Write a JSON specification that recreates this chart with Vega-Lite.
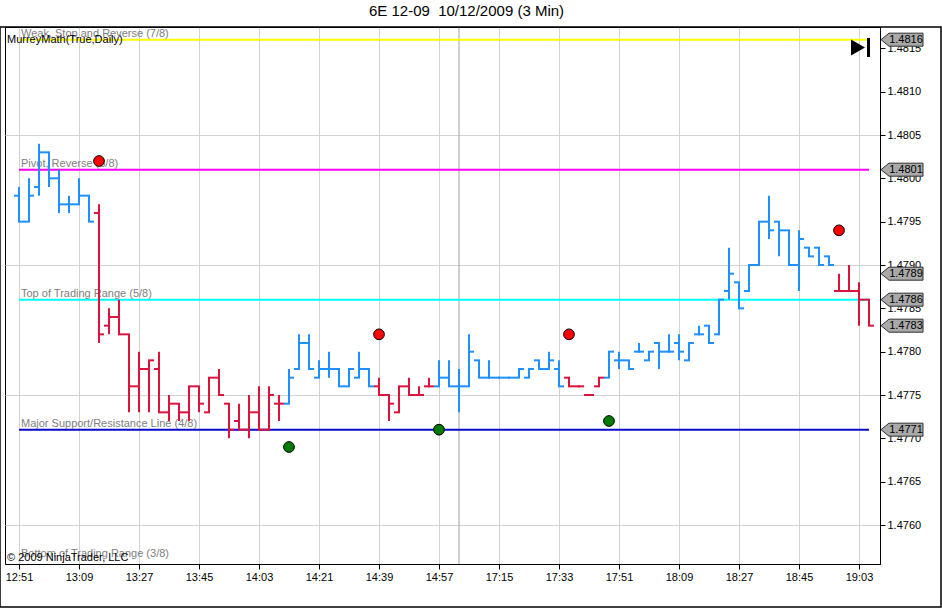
{
  "$schema": "https://vega.github.io/schema/vega-lite/v6.json",
  "description": "6E 12-09 3 minute OHLC bars with MurreyMath levels",
  "width": 875,
  "height": 537,
  "autosize": "none",
  "padding": {"left": 5, "top": 27, "right": 62, "bottom": 44},
  "title": {
    "text": "6E 12-09\u00a0 10/12/2009 (3 Min)",
    "anchor": "middle",
    "dx": 24,
    "offset": 7,
    "fontSize": 15,
    "fontWeight": "normal",
    "color": "black"
  },
  "config": {
    "font": "Liberation Sans",
    "view": {"stroke": "black", "strokeWidth": 1}
  },
  "datasets": {
    "bars": [
      {"i": 0, "o": 1.4798, "h": 1.4799, "l": 1.4795, "c": 1.4795, "t": "up"},
      {"i": 1, "o": 1.4795, "h": 1.4800, "l": 1.4795, "c": 1.4798, "t": "up"},
      {"i": 2, "o": 1.4799, "h": 1.4804, "l": 1.4798, "c": 1.4803, "t": "up"},
      {"i": 3, "o": 1.4803, "h": 1.4803, "l": 1.4799, "c": 1.4800, "t": "up"},
      {"i": 4, "o": 1.4800, "h": 1.4801, "l": 1.4796, "c": 1.4797, "t": "up"},
      {"i": 5, "o": 1.4797, "h": 1.4798, "l": 1.4796, "c": 1.4797, "t": "up"},
      {"i": 6, "o": 1.4797, "h": 1.4800, "l": 1.4797, "c": 1.4798, "t": "up"},
      {"i": 7, "o": 1.4798, "h": 1.4798, "l": 1.4795, "c": 1.4795, "t": "up"},
      {"i": 8, "o": 1.4796, "h": 1.4797, "l": 1.4781, "c": 1.4782, "t": "dn"},
      {"i": 9, "o": 1.4783, "h": 1.4785, "l": 1.4782, "c": 1.4784, "t": "dn"},
      {"i": 10, "o": 1.4784, "h": 1.4786, "l": 1.4782, "c": 1.4782, "t": "dn"},
      {"i": 11, "o": 1.4782, "h": 1.4782, "l": 1.4773, "c": 1.4776, "t": "dn"},
      {"i": 12, "o": 1.4776, "h": 1.4780, "l": 1.4773, "c": 1.4778, "t": "dn"},
      {"i": 13, "o": 1.4778, "h": 1.4779, "l": 1.4773, "c": 1.4779, "t": "dn"},
      {"i": 14, "o": 1.4778, "h": 1.4780, "l": 1.4773, "c": 1.4773, "t": "dn"},
      {"i": 15, "o": 1.4773, "h": 1.4775, "l": 1.4772, "c": 1.4774, "t": "dn"},
      {"i": 16, "o": 1.4774, "h": 1.4774, "l": 1.4772, "c": 1.4773, "t": "dn"},
      {"i": 17, "o": 1.4773, "h": 1.4776, "l": 1.4772, "c": 1.4776, "t": "dn"},
      {"i": 18, "o": 1.4776, "h": 1.4776, "l": 1.4773, "c": 1.4774, "t": "dn"},
      {"i": 19, "o": 1.4773, "h": 1.4777, "l": 1.4773, "c": 1.4777, "t": "dn"},
      {"i": 20, "o": 1.4777, "h": 1.4778, "l": 1.4775, "c": 1.4775, "t": "dn"},
      {"i": 21, "o": 1.4774, "h": 1.4774, "l": 1.4770, "c": 1.4771, "t": "dn"},
      {"i": 22, "o": 1.4772, "h": 1.4774, "l": 1.4771, "c": 1.4771, "t": "dn"},
      {"i": 23, "o": 1.4771, "h": 1.4775, "l": 1.4770, "c": 1.4773, "t": "dn"},
      {"i": 24, "o": 1.4773, "h": 1.4776, "l": 1.4771, "c": 1.4771, "t": "dn"},
      {"i": 25, "o": 1.4771, "h": 1.4776, "l": 1.4771, "c": 1.4775, "t": "dn"},
      {"i": 26, "o": 1.4774, "h": 1.4775, "l": 1.4772, "c": 1.4774, "t": "dn"},
      {"i": 27, "o": 1.4774, "h": 1.4778, "l": 1.4774, "c": 1.4777, "t": "up"},
      {"i": 28, "o": 1.4778, "h": 1.4782, "l": 1.4778, "c": 1.4781, "t": "up"},
      {"i": 29, "o": 1.4781, "h": 1.4782, "l": 1.4778, "c": 1.4778, "t": "up"},
      {"i": 30, "o": 1.4777, "h": 1.4779, "l": 1.4777, "c": 1.4778, "t": "up"},
      {"i": 31, "o": 1.4778, "h": 1.4780, "l": 1.4777, "c": 1.4778, "t": "up"},
      {"i": 32, "o": 1.4778, "h": 1.4778, "l": 1.4776, "c": 1.4776, "t": "up"},
      {"i": 33, "o": 1.4776, "h": 1.4778, "l": 1.4776, "c": 1.4778, "t": "up"},
      {"i": 34, "o": 1.4777, "h": 1.4780, "l": 1.4777, "c": 1.4778, "t": "up"},
      {"i": 35, "o": 1.4778, "h": 1.4778, "l": 1.4776, "c": 1.4776, "t": "up"},
      {"i": 36, "o": 1.4776, "h": 1.4777, "l": 1.4775, "c": 1.4775, "t": "dn"},
      {"i": 37, "o": 1.4775, "h": 1.4775, "l": 1.4772, "c": 1.4774, "t": "dn"},
      {"i": 38, "o": 1.4773, "h": 1.4776, "l": 1.4773, "c": 1.4776, "t": "dn"},
      {"i": 39, "o": 1.4776, "h": 1.4777, "l": 1.4775, "c": 1.4775, "t": "dn"},
      {"i": 40, "o": 1.4775, "h": 1.4776, "l": 1.4775, "c": 1.4775, "t": "dn"},
      {"i": 41, "o": 1.4776, "h": 1.4777, "l": 1.4776, "c": 1.4776, "t": "dn"},
      {"i": 42, "o": 1.4776, "h": 1.4779, "l": 1.4776, "c": 1.4777, "t": "up"},
      {"i": 43, "o": 1.4777, "h": 1.4779, "l": 1.4776, "c": 1.4776, "t": "up"},
      {"i": 44, "o": 1.4776, "h": 1.4778, "l": 1.4773, "c": 1.4776, "t": "up"},
      {"i": 45, "o": 1.4776, "h": 1.4782, "l": 1.4776, "c": 1.4780, "t": "up"},
      {"i": 46, "o": 1.4779, "h": 1.4779, "l": 1.4777, "c": 1.4777, "t": "up"},
      {"i": 47, "o": 1.4777, "h": 1.4779, "l": 1.4777, "c": 1.4777, "t": "up"},
      {"i": 48, "o": 1.4777, "h": 1.4777, "l": 1.4777, "c": 1.4777, "t": "up"},
      {"i": 49, "o": 1.4777, "h": 1.4777, "l": 1.4777, "c": 1.4777, "t": "up"},
      {"i": 50, "o": 1.4777, "h": 1.4778, "l": 1.4777, "c": 1.4778, "t": "up"},
      {"i": 51, "o": 1.4777, "h": 1.4778, "l": 1.4777, "c": 1.4778, "t": "up"},
      {"i": 52, "o": 1.4779, "h": 1.4779, "l": 1.4778, "c": 1.4778, "t": "up"},
      {"i": 53, "o": 1.4778, "h": 1.4780, "l": 1.4778, "c": 1.4779, "t": "up"},
      {"i": 54, "o": 1.4778, "h": 1.4779, "l": 1.4776, "c": 1.4776, "t": "up"},
      {"i": 55, "o": 1.4777, "h": 1.4777, "l": 1.4776, "c": 1.4776, "t": "dn"},
      {"i": 56, "o": 1.4776, "h": 1.4776, "l": 1.4776, "c": 1.4776, "t": "dn"},
      {"i": 57, "o": 1.4775, "h": 1.4775, "l": 1.4775, "c": 1.4775, "t": "dn"},
      {"i": 58, "o": 1.4776, "h": 1.4777, "l": 1.4776, "c": 1.4777, "t": "dn"},
      {"i": 59, "o": 1.4777, "h": 1.4780, "l": 1.4777, "c": 1.4780, "t": "up"},
      {"i": 60, "o": 1.4779, "h": 1.4780, "l": 1.4778, "c": 1.4779, "t": "up"},
      {"i": 61, "o": 1.4779, "h": 1.4779, "l": 1.4778, "c": 1.4778, "t": "up"},
      {"i": 62, "o": 1.4780, "h": 1.4781, "l": 1.4780, "c": 1.4780, "t": "up"},
      {"i": 63, "o": 1.4779, "h": 1.4780, "l": 1.4779, "c": 1.4780, "t": "up"},
      {"i": 64, "o": 1.4781, "h": 1.4781, "l": 1.4778, "c": 1.4780, "t": "up"},
      {"i": 65, "o": 1.4780, "h": 1.4782, "l": 1.4780, "c": 1.4780, "t": "up"},
      {"i": 66, "o": 1.4781, "h": 1.4782, "l": 1.4779, "c": 1.4780, "t": "up"},
      {"i": 67, "o": 1.4779, "h": 1.4781, "l": 1.4779, "c": 1.4781, "t": "up"},
      {"i": 68, "o": 1.4782, "h": 1.4783, "l": 1.4782, "c": 1.4782, "t": "up"},
      {"i": 69, "o": 1.4783, "h": 1.4783, "l": 1.4781, "c": 1.4781, "t": "up"},
      {"i": 70, "o": 1.4782, "h": 1.4786, "l": 1.4782, "c": 1.4786, "t": "up"},
      {"i": 71, "o": 1.4787, "h": 1.4792, "l": 1.4786, "c": 1.4789, "t": "up"},
      {"i": 72, "o": 1.4788, "h": 1.4788, "l": 1.4785, "c": 1.4785, "t": "up"},
      {"i": 73, "o": 1.4787, "h": 1.4790, "l": 1.4787, "c": 1.4790, "t": "up"},
      {"i": 74, "o": 1.4790, "h": 1.4795, "l": 1.4790, "c": 1.4795, "t": "up"},
      {"i": 75, "o": 1.4795, "h": 1.4798, "l": 1.4793, "c": 1.4794, "t": "up"},
      {"i": 76, "o": 1.4795, "h": 1.4795, "l": 1.4791, "c": 1.4794, "t": "up"},
      {"i": 77, "o": 1.4794, "h": 1.4794, "l": 1.4790, "c": 1.4790, "t": "up"},
      {"i": 78, "o": 1.4790, "h": 1.4794, "l": 1.4787, "c": 1.4793, "t": "up"},
      {"i": 79, "o": 1.4792, "h": 1.4792, "l": 1.4791, "c": 1.4791, "t": "up"},
      {"i": 80, "o": 1.4792, "h": 1.4792, "l": 1.4790, "c": 1.4790, "t": "up"},
      {"i": 81, "o": 1.4791, "h": 1.4791, "l": 1.4790, "c": 1.4790, "t": "up"},
      {"i": 82, "o": 1.4787, "h": 1.4789, "l": 1.4787, "c": 1.4787, "t": "dn"},
      {"i": 83, "o": 1.4787, "h": 1.4790, "l": 1.4787, "c": 1.4787, "t": "dn"},
      {"i": 84, "o": 1.4787, "h": 1.4788, "l": 1.4783, "c": 1.4786, "t": "dn"},
      {"i": 85, "o": 1.4786, "h": 1.4786, "l": 1.4783, "c": 1.4783, "t": "dn"}
    ],
    "levels": [
      {"v": 1.4816, "name": "Weak, Stop and Reverse (7/8)"},
      {"v": 1.4801, "name": "Pivot, Reverse (6/8)"},
      {"v": 1.4786, "name": "Top of Trading Range (5/8)"},
      {"v": 1.4771, "name": "Major Support/Resistance Line (4/8)"},
      {"v": 1.4756, "name": "Bottom of Trading Range (3/8)"}
    ],
    "dots": [
      {"i": 8, "v": 1.4802, "k": "red"},
      {"i": 36, "v": 1.4782, "k": "red"},
      {"i": 55, "v": 1.4782, "k": "red"},
      {"i": 82, "v": 1.4794, "k": "red"},
      {"i": 27, "v": 1.4769, "k": "green"},
      {"i": 42, "v": 1.4771, "k": "green"},
      {"i": 59, "v": 1.4772, "k": "green"}
    ],
    "tags": [
      {"v": 1.4816},
      {"v": 1.4801},
      {"v": 1.4789},
      {"v": 1.4786},
      {"v": 1.4783},
      {"v": 1.4771}
    ],
    "one": [{}]
  },
  "layer": [
    {
      "data": {"name": "one"},
      "mark": {"type": "rule", "color": "#A0A0A0", "strokeWidth": 1},
      "encoding": {"x": {"datum": 44, "type": "quantitative"}}
    },
    {
      "data": {"name": "levels"},
      "transform": [{"filter": "datum.v > 1.476"}],
      "mark": {"type": "rule", "strokeWidth": 2},
      "encoding": {
        "x": {"datum": 0, "type": "quantitative"},
        "x2": {"datum": 85},
        "y": {"field": "v", "type": "quantitative"},
        "stroke": {
          "field": "name",
          "type": "nominal",
          "scale": {
            "domain": ["Weak, Stop and Reverse (7/8)", "Pivot, Reverse (6/8)", "Top of Trading Range (5/8)", "Major Support/Resistance Line (4/8)"],
            "range": ["#FFFF00", "#FF00FF", "#00FFFF", "#0A0ACD"]
          },
          "legend": null
        }
      }
    },
    {
      "data": {"name": "levels"},
      "mark": {"type": "text", "align": "left", "baseline": "alphabetic", "dy": -3, "fontSize": 11, "color": "#808080"},
      "encoding": {
        "x": {"datum": 0.2, "type": "quantitative"},
        "y": {"field": "v", "type": "quantitative"},
        "text": {"field": "name"}
      }
    },
    {
      "data": {"name": "bars"},
      "mark": {"type": "rule", "strokeWidth": 2},
      "encoding": {
        "x": {
          "field": "i",
          "type": "quantitative",
          "scale": {"domain": [-1.4, 86.1], "nice": false, "zero": false},
          "axis": {
            "title": null,
            "values": [0, 6, 12, 18, 24, 30, 36, 42, 48, 54, 60, 66, 72, 78, 84],
            "labelExpr": "['12:51','13:09','13:27','13:45','14:03','14:21','14:39','14:57','17:15','17:33','17:51','18:09','18:27','18:45','19:03'][round(datum.value / 6)]",
            "grid": true,
            "gridColor": "#D3D3D3",
            "domainColor": "black",
            "tickColor": "black",
            "tickSize": 5,
            "labelFontSize": 11,
            "labelColor": "black",
            "labelPadding": 2,
            "labelFlush": false
          }
        },
        "y": {
          "field": "l",
          "type": "quantitative",
          "scale": {"domain": [1.47555, 1.4817462], "nice": false, "zero": false},
          "axis": {
            "title": null,
            "orient": "right",
            "values": [1.476, 1.4765, 1.477, 1.4775, 1.478, 1.4785, 1.479, 1.4795, 1.48, 1.4805, 1.481, 1.4815],
            "format": ".4f",
            "grid": true,
            "gridColor": "#D3D3D3",
            "gridOpacity": {"condition": {"test": "round(datum.value * 10000) % 15 == 0", "value": 1}, "value": 0},
            "domainColor": "black",
            "tickColor": "black",
            "tickSize": 5,
            "labelFontSize": 11,
            "labelColor": "black",
            "labelPadding": 2
          }
        },
        "y2": {"field": "h"},
        "color": {
          "field": "t",
          "type": "nominal",
          "scale": {"domain": ["up", "dn"], "range": ["#1E90FF", "#DC143C"]},
          "legend": null
        }
      }
    },
    {
      "data": {"name": "bars"},
      "mark": {"type": "rule", "strokeWidth": 2, "xOffset": -5, "x2Offset": 1},
      "encoding": {
        "x": {"field": "i", "type": "quantitative"},
        "x2": {"field": "i"},
        "y": {"field": "o", "type": "quantitative"},
        "color": {"field": "t", "type": "nominal", "legend": null}
      }
    },
    {
      "data": {"name": "bars"},
      "mark": {"type": "rule", "strokeWidth": 2, "xOffset": -1, "x2Offset": 5},
      "encoding": {
        "x": {"field": "i", "type": "quantitative"},
        "x2": {"field": "i"},
        "y": {"field": "c", "type": "quantitative"},
        "color": {"field": "t", "type": "nominal", "legend": null}
      }
    },
    {
      "data": {"name": "dots"},
      "mark": {"type": "point", "shape": "circle", "filled": true, "size": 115, "stroke": "black", "strokeWidth": 1, "opacity": 1},
      "encoding": {
        "x": {"field": "i", "type": "quantitative"},
        "y": {"field": "v", "type": "quantitative"},
        "fill": {
          "field": "k",
          "type": "nominal",
          "scale": {"domain": ["red", "green"], "range": ["#FF0000", "#007A00"]},
          "legend": null
        }
      }
    },
    {
      "data": {"name": "tags"},
      "mark": {
        "type": "point",
        "shape": "M-1,0L-0.62,-0.31L1,-0.31L1,0.31L-0.62,0.31Z",
        "filled": true,
        "size": 1764,
        "fill": "#A9A9A9",
        "stroke": "#303030",
        "strokeWidth": 1,
        "opacity": 1
      },
      "encoding": {
        "x": {"datum": 88.3, "type": "quantitative"},
        "y": {"field": "v", "type": "quantitative"}
      }
    },
    {
      "data": {"name": "tags"},
      "mark": {"type": "text", "align": "center", "baseline": "middle", "fontSize": 11, "color": "black", "dy": 0.5},
      "encoding": {
        "x": {"datum": 88.7, "type": "quantitative"},
        "y": {"field": "v", "type": "quantitative"},
        "text": {"field": "v", "type": "quantitative", "format": ".4f"}
      }
    },
    {
      "data": {"name": "one"},
      "mark": {"type": "text", "align": "left", "baseline": "alphabetic", "fontSize": 11, "color": "black", "text": "MurreyMath(True,Daily)"},
      "encoding": {
        "x": {"datum": -1.2, "type": "quantitative"},
        "y": {"datum": 1.48156, "type": "quantitative"}
      }
    },
    {
      "data": {"name": "one"},
      "mark": {"type": "text", "align": "left", "baseline": "alphabetic", "fontSize": 11, "color": "black", "text": "© 2009 NinjaTrader, LLC"},
      "encoding": {
        "x": {"datum": -1.2, "type": "quantitative"},
        "y": {"datum": 1.475585, "type": "quantitative"}
      }
    },
    {
      "data": {"name": "one"},
      "mark": {"type": "point", "shape": "triangle-right", "filled": true, "size": 260, "color": "black", "opacity": 1},
      "encoding": {
        "x": {"datum": 83.9, "type": "quantitative"},
        "y": {"datum": 1.48151, "type": "quantitative"}
      }
    },
    {
      "data": {"name": "one"},
      "mark": {"type": "rule", "strokeWidth": 3, "color": "black"},
      "encoding": {
        "x": {"datum": 84.95, "type": "quantitative"},
        "y": {"datum": 1.48162, "type": "quantitative"},
        "y2": {"datum": 1.4814}
      }
    },
    {
      "data": {"name": "one"},
      "mark": {"type": "rect", "filled": false, "stroke": "black", "strokeWidth": 1.5},
      "encoding": {
        "x": {"datum": -1.9, "type": "quantitative"},
        "x2": {"datum": 92.2},
        "y": {"datum": 1.4817462, "type": "quantitative"},
        "y2": {"datum": 1.475054}
      }
    }
  ]
}
